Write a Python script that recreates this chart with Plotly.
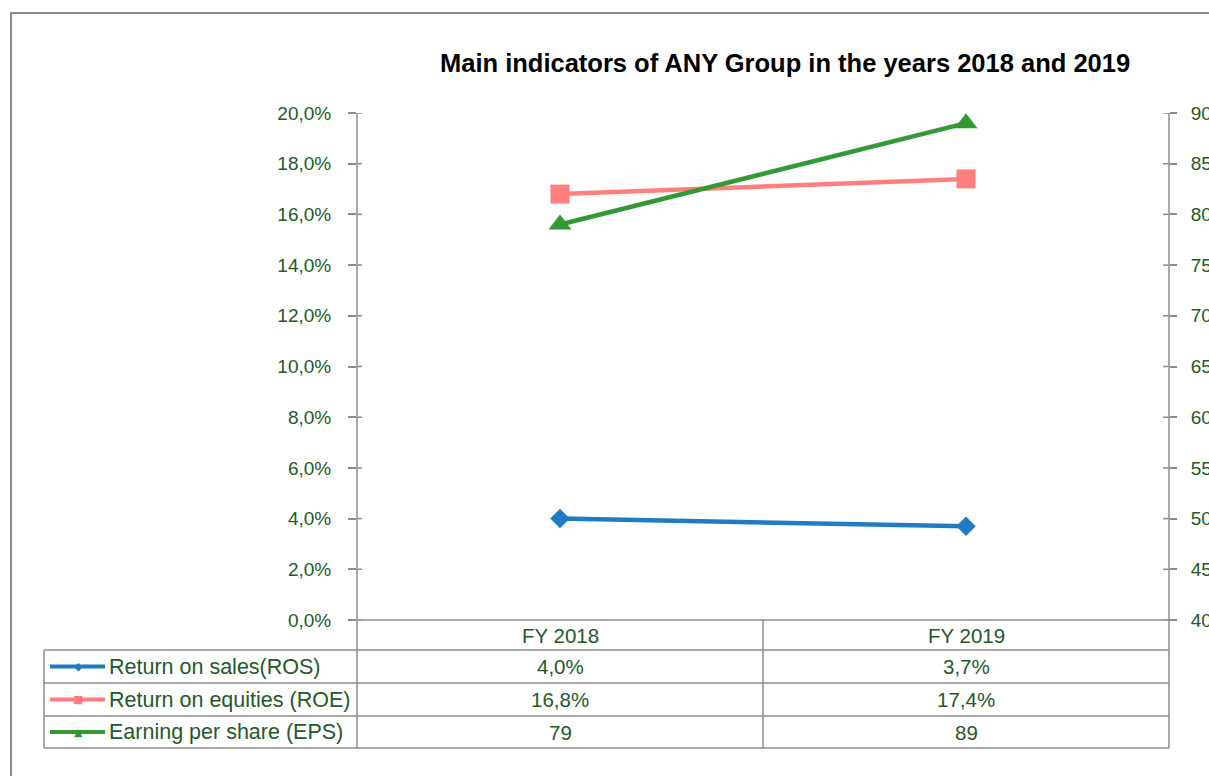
import plotly.graph_objects as go

# ---- data ----
categories = ["FY 2018", "FY 2019"]
ros = [4.0, 3.7]      # %
roe = [16.8, 17.4]    # %
eps = [79, 89]
series_names = ["Return on sales(ROS)", "Return on equities (ROE)", "Earning per share (EPS)"]
title_text = "Main indicators of ANY Group in the years 2018 and 2019"
left_ticks = [0, 0.02, 0.04, 0.06, 0.08, 0.10, 0.12, 0.14, 0.16, 0.18, 0.20]
right_ticks = [40, 45, 50, 55, 60, 65, 70, 75, 80, 85, 90]

W, H = 1209, 776
FONT = "Liberation Sans, Arial, sans-serif"
TXT = "#235a28"
GRID = "#8c8c8c"
BLUE = "#1f7bc2"
PINK = "#ff7f7f"
GREEN = "#339933"


def px(x):
    return x / W


def py(y):
    return 1 - y / H


# plot area in pixels
L, R, T, B = 357, 1169, 113, 620

fig = go.Figure()
fig.add_trace(go.Scatter(x=categories, y=[v / 100 for v in ros], name=series_names[0],
                         mode="lines+markers", line=dict(color=BLUE, width=4.5),
                         marker=dict(symbol="diamond", size=15, color=BLUE), yaxis="y"))
fig.add_trace(go.Scatter(x=categories, y=[v / 100 for v in roe], name=series_names[1],
                         mode="lines+markers", line=dict(color=PINK, width=4.5),
                         marker=dict(symbol="square", size=19, color=PINK), yaxis="y"))
fig.add_trace(go.Scatter(x=categories, y=eps, name=series_names[2],
                         mode="lines+markers", line=dict(color=GREEN, width=4.5),
                         marker=dict(symbol="triangle-up", size=20, color=GREEN), yaxis="y2"))

shapes = []
annotations = []

# outer chart border
shapes.append(dict(type="rect", xref="paper", yref="paper", x0=px(11), x1=px(W + 20),
                   y0=py(13), y1=py(H + 20), line=dict(color="#8a8a8a", width=2), layer="below"))


def hline(y, x0, x1):
    shapes.append(dict(type="line", xref="paper", yref="paper", x0=px(x0), x1=px(x1),
                       y0=py(y), y1=py(y), line=dict(color=GRID, width=1.5)))


def vline(x, y0, y1):
    shapes.append(dict(type="line", xref="paper", yref="paper", x0=px(x), x1=px(x),
                       y0=py(y0), y1=py(y1), line=dict(color=GRID, width=1.5)))


# data table grid
row_edges = [620, 650, 683, 716, 748]
hline(620, L, R + 7)
for y in row_edges[1:]:
    hline(y, 44, R)
vline(44, 650, 748)
vline(L, 113, 748)
vline(763, 620, 748)
vline(R, 113, 748)

# inner halves of the crossing tick marks
for t in left_ticks:
    shapes.append(dict(type="line", xref="paper", yref="y", x0=px(L), x1=px(L + 5), y0=t, y1=t,
                       line=dict(color=GRID, width=1.5)))
for t in right_ticks:
    shapes.append(dict(type="line", xref="paper", yref="y2", x0=px(R - 6), x1=px(R), y0=t, y1=t,
                       line=dict(color=GRID, width=1.5)))

# header row: categories
for c in categories:
    annotations.append(dict(x=c, xref="x", y=py(635), yref="paper", text=c, showarrow=False,
                            font=dict(family=FONT, size=20.5, color=TXT), xanchor="center", yanchor="middle"))

rows = [
    ([f"{v:.1f}%".replace(".", ",") for v in ros], BLUE, "◆", series_names[0]),
    ([f"{v:.1f}%".replace(".", ",") for v in roe], PINK, "■", series_names[1]),
    ([f"{v:d}" for v in eps], GREEN, "▲", series_names[2]),
]
for i, (vals, col, glyph, name) in enumerate(rows):
    yc = (row_edges[i + 1] + row_edges[i + 2]) / 2
    for c, v in zip(categories, vals):
        annotations.append(dict(x=c, xref="x", y=py(yc), yref="paper", text=v, showarrow=False,
                                font=dict(family=FONT, size=20.5, color=TXT), xanchor="center", yanchor="middle"))
    # legend key
    shapes.append(dict(type="line", xref="paper", yref="paper", x0=px(50), x1=px(105),
                       y0=py(yc), y1=py(yc), line=dict(color=col, width=4)))
    annotations.append(dict(x=px(78), xref="paper", y=py(yc), yref="paper", text=glyph, showarrow=False,
                            font=dict(family="DejaVu Sans", size=11, color=col), xanchor="center", yanchor="middle"))
    annotations.append(dict(x=px(107), xref="paper", y=py(yc), yref="paper", text=name, showarrow=False,
                            font=dict(family=FONT, size=21.5, color=TXT), xanchor="left", yanchor="middle"))

# title
annotations.append(dict(x=px(785), xref="paper", y=py(63), yref="paper", text="<b>" + title_text + "</b>",
                        showarrow=False, font=dict(family=FONT, size=25.5, color="#000000"),
                        xanchor="center", yanchor="middle"))

fig.update_layout(
    width=W, height=H,
    margin=dict(l=0, r=0, t=0, b=0, pad=0),
    paper_bgcolor="white", plot_bgcolor="white",
    showlegend=False,
    separators=",.",
    shapes=shapes, annotations=annotations,
    xaxis=dict(domain=[px(L), px(R)], range=[-0.5, 1.5], showticklabels=False, showgrid=False,
               zeroline=False, showline=False, ticks="", automargin=False),
    yaxis=dict(domain=[py(B), py(T)], range=[0, 0.2], tickvals=left_ticks, tickformat=".1%",
               showgrid=False, zeroline=False, showline=False, ticks="outside", ticklen=8,
               tickcolor=GRID, tickwidth=1.5, ticklabelstandoff=13, automargin=False,
               tickfont=dict(family=FONT, size=19, color=TXT)),
    yaxis2=dict(domain=[py(B), py(T)], range=[40, 90], tickvals=right_ticks, overlaying="y", side="right",
                showgrid=False, zeroline=False, showline=False, ticks="outside", ticklen=7,
                tickcolor=GRID, tickwidth=1.5, ticklabelstandoff=10, automargin=False,
                tickfont=dict(family=FONT, size=19, color=TXT)),
)

fig.write_html("out.html", config={"displayModeBar": False},
               post_script="document.body.style.margin='0px';document.body.style.overflow='hidden';")
